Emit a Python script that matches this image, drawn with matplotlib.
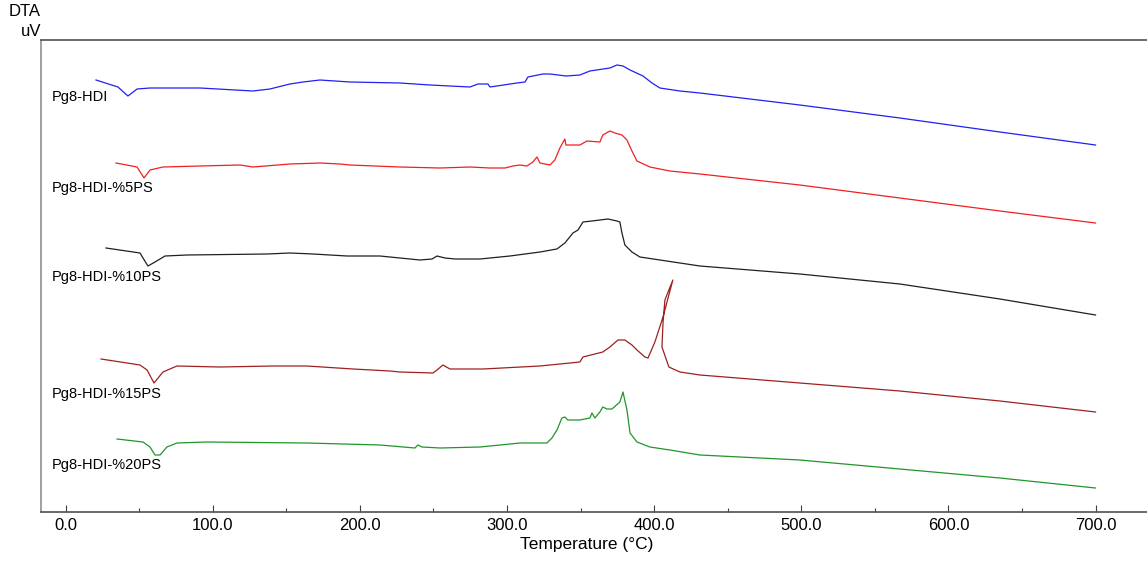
import matplotlib
matplotlib.use("Agg")
import matplotlib.pyplot as plt
from matplotlib.ticker import MultipleLocator

plt.rcParams['font.family'] = ['Liberation Sans', 'DejaVu Sans']

# DTA curves: temperature (C) and signal (uV, arbitrary offset)
t_hdi = [20.6, 35.5, 42.3, 48.5, 57.3, 91.3, 127.3, 138.8, 152.4, 161.3, 172.8, 193.2, 227.2,
         247.6, 274.8, 280.2, 287.0, 288.4, 306.7, 312.2, 314.2, 324.4, 329.2, 340.0, 349.5,
         356.3, 369.9, 374.7, 378.8, 383.6, 392.4, 398.5, 403.9, 417.5, 431.1, 499.0, 567.0,
         635.0, 700.0]
v_hdi = [432, 425, 416, 423, 424, 424, 421, 423, 428, 430, 432, 430, 429,
         427, 425, 428, 428, 425, 429, 430, 435, 438, 438, 436, 437,
         441, 444, 447, 446, 442, 436, 429, 424, 421, 419, 407, 394, 380, 367]

t_5ps = [34.2, 48.5, 53.2, 57.3, 66.1, 91.3, 118.5, 127.3, 152.4, 172.8, 186.4, 193.2, 227.2,
         254.4, 274.8, 288.4, 298.6, 304.0, 308.8, 313.5, 317.6, 320.3, 322.4, 329.2, 332.5,
         335.9, 339.3, 340.0, 349.5, 354.3, 363.1, 365.1, 369.9, 373.3, 378.1, 381.5, 384.9,
         388.3, 397.1, 410.7, 431.1, 499.0, 567.0, 635.0, 700.0]
v_5ps = [349, 345, 334, 342, 345, 346, 347, 345, 348, 349, 348, 347, 345,
         344, 345, 344, 344, 346, 347, 346, 350, 355, 349, 347, 352,
         364, 373, 367, 367, 371, 370, 377, 381, 379, 377, 372, 361,
         351, 345, 341, 338, 327, 314, 301, 289]

t_10ps = [27.4, 50.5, 54.6, 55.9, 60.7, 67.5, 82.4, 136.8, 152.4, 168.1, 191.2, 213.6, 240.8,
          249.0, 252.4, 257.8, 264.6, 281.6, 302.0, 322.4, 333.9, 339.3, 344.8, 348.2, 351.6,
          357.7, 368.6, 374.7, 376.7, 378.1, 380.1, 384.9, 390.3, 403.9, 431.1, 499.0, 567.0,
          635.0, 700.0]
v_10ps = [264, 259, 249, 246, 250, 256, 257, 258, 259, 258, 256, 256, 252,
          253, 256, 254, 253, 253, 256, 260, 263, 269, 279, 282, 290,
          291, 293, 291, 290, 279, 267, 260, 255, 252, 246, 238, 228, 213, 197]

t_15ps = [24.0, 50.5, 55.3, 60.0, 66.1, 75.6, 104.9, 140.9, 163.9, 195.3, 220.4, 227.2, 249.6,
          252.4, 256.4, 261.2, 283.6, 322.4, 349.5, 351.6, 365.1, 369.9, 375.4, 380.1, 384.9,
          388.3, 393.7, 395.8, 400.5, 406.0, 412.7, 407.3, 406.0, 405.3, 410.0, 417.5, 431.1,
          499.0, 567.0, 635.0, 700.0]
v_15ps = [153, 147, 142, 129, 140, 146, 145, 146, 146, 143, 141, 140, 139,
          142, 147, 143, 143, 146, 150, 155, 160, 165, 172, 172, 167,
          162, 155, 154, 170, 195, 232, 212, 189, 165, 145, 140, 137,
          129, 121, 111, 100]

t_20ps = [34.9, 52.5, 57.3, 60.7, 64.1, 68.8, 75.6, 96.0, 163.9, 213.6, 237.4, 239.4, 242.2,
          254.4, 281.6, 295.2, 308.8, 327.1, 330.5, 333.9, 337.3, 339.3, 341.4, 349.5, 356.3,
          357.7, 359.7, 363.1, 365.1, 367.9, 371.3, 376.7, 378.8, 381.5, 383.6, 388.3, 397.1,
          410.7, 431.1, 499.0, 567.0, 635.0, 700.0]
v_20ps = [73, 70, 65, 57, 57, 65, 69, 70, 69, 67, 64, 67, 65,
          64, 65, 67, 69, 69, 74, 82, 94, 95, 92, 92, 94,
          99, 94, 100, 105, 103, 103, 110, 120, 102, 79, 70, 65,
          62, 57, 52, 43, 34, 24]

names = ['Pg8-HDI', 'Pg8-HDI-%5PS', 'Pg8-HDI-%10PS', 'Pg8-HDI-%15PS', 'Pg8-HDI-%20PS']
colors = ['#2020f0', '#f02020', '#202020', '#9e2020', '#20962a']
label_y = [415, 324, 235, 118, 47]

fig = plt.figure(figsize=(11.47, 5.61), dpi=100)
ax = fig.add_axes([41 / 1147, 49 / 561, 1106 / 1147, 472 / 561])

curves = [(t_hdi, v_hdi), (t_5ps, v_5ps), (t_10ps, v_10ps), (t_15ps, v_15ps), (t_20ps, v_20ps)]
for (t, v), c, name, ly in zip(curves, colors, names, label_y):
    ax.plot(t, v, color=c, linewidth=0.9)
    ax.text(-9.3, ly, name, fontsize=10.5, ha='left', va='center')

ax.set_xlim(-16.8, 735)
ax.set_ylim(0, 472)
ax.xaxis.set_major_locator(MultipleLocator(100))
ax.xaxis.set_minor_locator(MultipleLocator(50))
ax.xaxis.set_major_formatter(matplotlib.ticker.FormatStrFormatter('%.1f'))
ax.tick_params(axis='x', which='major', direction='in', length=5, width=0.8,
               colors='#404040', labelcolor='black', labelsize=12, pad=4)
ax.tick_params(axis='x', which='minor', direction='in', length=3, width=0.8, colors='#404040')
ax.set_yticks([])
ax.spines['right'].set_visible(False)
for s in ['top', 'bottom']:
    ax.spines[s].set_color('#505050')
    ax.spines[s].set_linewidth(1.2)
ax.spines['left'].set_color('#909090')
ax.spines['left'].set_linewidth(1.2)

fig.text(587 / 1147, 1 - 545 / 561, 'Temperature (°C)', fontsize=12.5, ha='center', va='center')
fig.text(41 / 1147, 1 - 11 / 561, 'DTA', fontsize=12, ha='right', va='center')
fig.text(41 / 1147, 1 - 31 / 561, 'uV', fontsize=12, ha='right', va='center')

fig.savefig('out.png', dpi=100)
